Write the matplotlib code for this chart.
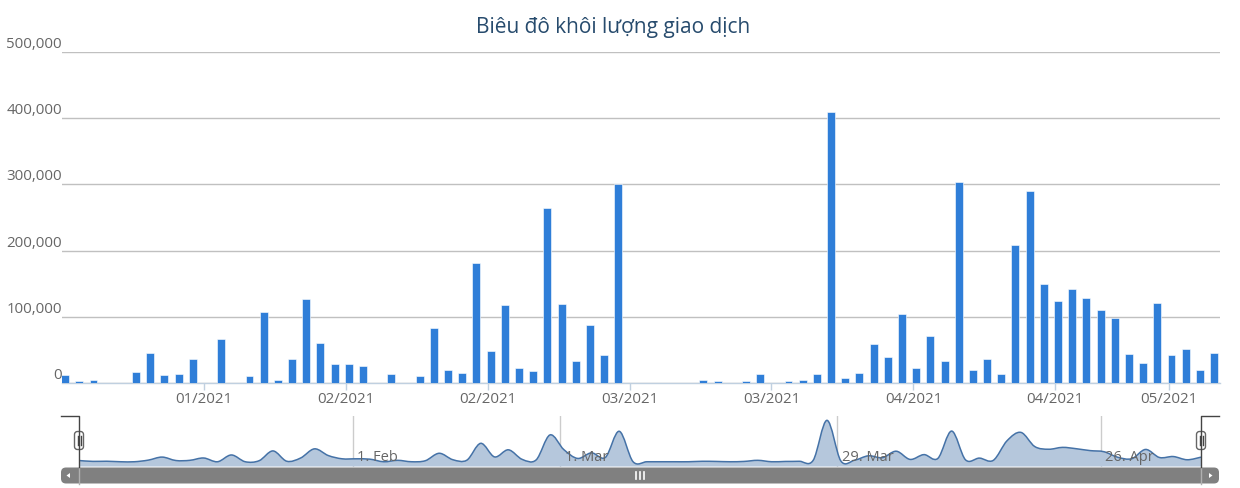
import numpy as np
import matplotlib
matplotlib.use("Agg")
from matplotlib import pyplot as plt
from matplotlib.path import Path
from matplotlib.patches import PathPatch, FancyBboxPatch, Polygon

plt.rcParams['font.family'] = ['Open Sans', 'DejaVu Sans']

# daily traded volume, one value per trading day (04/01/2021 .. 07/05/2021)
volumes = [
    12000, 3500, 5000, 0, 0, 16000, 46000, 12000, 14000, 37000,
    0, 67000, 0, 10000, 107000, 5000, 37000, 127500, 61000, 29000,
    29000, 25500, 0, 14000, 0, 10000, 83600, 19600, 15600, 182000,
    47800, 118000, 23000, 18000, 265000, 120000, 32700, 88000, 42800, 301000,
    0, 0, 0, 0, 0, 4500, 3000, 0, 3000, 14000,
    0, 3000, 4500, 13500, 409000, 8000, 15600, 59000, 40000, 104000,
    23000, 70500, 32700, 303000, 19000, 36000, 13500, 208000, 290000, 150000,
    123500, 142000, 128600, 110000, 98800, 44000, 30000, 121500, 42000, 51400,
    19600, 45400,
]

# main axis ticks (trading-day index) and labels
tick_days = [10, 20, 30, 40, 50, 60, 70, 78]
tick_labels = ['01/2021', '02/2021', '02/2021', '03/2021',
               '03/2021', '04/2021', '04/2021', '05/2021']

# navigator ticks
nav_days = [20, 35, 55, 74]
nav_labels = ['1. Feb', '1. Mar', '29. Mar', '26. Apr']

y_ticks = [0, 100000, 200000, 300000, 400000, 500000]

W, H = 1240, 488
fig = plt.figure(figsize=(W / 100, H / 100), dpi=100)

# ---- main chart
ax = fig.add_axes([62 / W, 1 - 383 / H, 1158 / W, 331 / H])
x = np.arange(len(volumes))
ax.bar(x, volumes, width=0.56, color='#2f7ed8', edgecolor='#ffffff',
       linewidth=0.4, zorder=3)
ax.set_xlim(-0.22, len(volumes) - 0.58)
ax.set_ylim(0, 500000)
ax.set_yticks(y_ticks)
ax.set_yticklabels(['{:,}'.format(v) for v in y_ticks])
ax.yaxis.grid(True, color='#c0c0c0', lw=1, zorder=0)
ax.tick_params(axis='y', length=0, pad=0, labelsize=10.8, labelcolor='#666666')
for lab in ax.get_yticklabels():
    lab.set_verticalalignment('bottom')
ax.set_xticks([d - 0.2 for d in tick_days])
ax.set_xticklabels(tick_labels)
ax.tick_params(axis='x', length=5, width=1, color='#c0d0e0', pad=1.5,
               labelsize=10.8, labelcolor='#666666')
for s in ['top', 'right', 'left']:
    ax.spines[s].set_visible(False)
ax.spines['bottom'].set_color('#c0d0e0')
ax.spines['bottom'].set_linewidth(1)

fig.text(613 / W, 1 - 32.5 / H, 'Biêu đô khôi lượng giao dịch',
         ha='center', va='baseline', fontsize=15, color='#274b6d')

# ---- navigator
nav = fig.add_axes([79 / W, 1 - 466.5 / H, 1122 / W, 50.5 / H])
nav.set_xlim(0, len(volumes) - 1)
nav.set_ylim(-47000, 452000)
nav.axis('off')
for d, lab in zip(nav_days, nav_labels):
    nav.axvline(d - 0.25, color='#cccccc', lw=1, zorder=1)
    nav.text(d - 0.25 + 0.3, 0.1, lab, transform=nav.get_xaxis_transform(),
             ha='left', va='baseline', fontsize=10.5, color='#666666', zorder=4)

xs = list(range(len(volumes)))
ys = volumes
verts = [(xs[0], ys[0])]
codes = [Path.MOVETO]
n = len(xs)
for i in range(n - 1):
    i0, i1, i2, i3 = max(i - 1, 0), i, i + 1, min(i + 2, n - 1)
    c1 = (xs[i1] + (xs[i2] - xs[i0]) / 6, ys[i1] + (ys[i2] - ys[i0]) / 6)
    c2 = (xs[i2] - (xs[i3] - xs[i1]) / 6, ys[i2] - (ys[i3] - ys[i1]) / 6)
    verts += [c1, c2, (xs[i2], ys[i2])]
    codes += [Path.CURVE4] * 3
area_verts = verts + [(xs[-1], -47000), (xs[0], -47000), (xs[0], ys[0])]
area_codes = codes + [Path.LINETO, Path.LINETO, Path.CLOSEPOLY]
nav.add_patch(PathPatch(Path(area_verts, area_codes), facecolor='#b5c7dc',
                        edgecolor='none', zorder=2))
nav.add_patch(PathPatch(Path(verts, codes), facecolor='none',
                        edgecolor='#4572a7', lw=1.1, zorder=3))

# ---- navigator outline, handles and scrollbar (pixel overlay)
ov = fig.add_axes([0, 0, 1, 1], zorder=10)
ov.set_xlim(0, W)
ov.set_ylim(H, 0)
ov.axis('off')
ov.patch.set_alpha(0)

ov.add_patch(FancyBboxPatch((61, 467.5), 1158, 16,
                            boxstyle='round,pad=0,rounding_size=5',
                            facecolor='#808080', edgecolor='none'))
for xx in (79, 1201):
    ov.plot([xx, xx], [467.5, 483.5], color='#b0b0b0', lw=1)
ov.add_patch(Polygon([(66.5, 475.5), (70, 473), (70, 478)], closed=True,
                     facecolor='white', edgecolor='none'))
ov.add_patch(Polygon([(1212.5, 475.5), (1209, 473), (1209, 478)], closed=True,
                     facecolor='white', edgecolor='none'))
for gx in (635.5, 639.5, 643.5):
    ov.plot([gx, gx], [472, 479], color='white', lw=1.2)

ov.plot([61, 79, 79], [416, 416, 466.5], color='#444444', lw=1)
ov.plot([1219, 1201, 1201], [416, 416, 466.5], color='#444444', lw=1)
for hx in (79, 1201):
    ov.add_patch(FancyBboxPatch((hx - 4.5, 431.5), 9, 18,
                                boxstyle='round,pad=0,rounding_size=3',
                                facecolor='white', edgecolor='#666666', lw=1))
    for dx in (-1.5, 1.5):
        ov.plot([hx + dx, hx + dx], [436, 445], color='#444444', lw=1)

fig.savefig('out.png', dpi=100)
